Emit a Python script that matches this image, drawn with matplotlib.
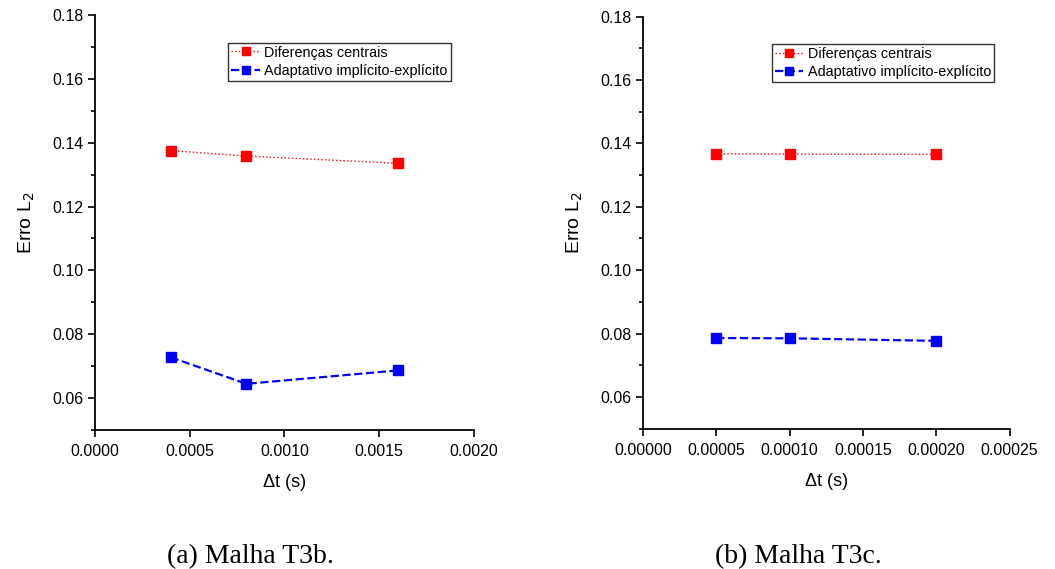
import matplotlib
matplotlib.use("Agg")
import matplotlib.pyplot as plt
from matplotlib.ticker import MultipleLocator, FormatStrFormatter

plt.rcParams['font.family'] = ['Liberation Sans', 'DejaVu Sans']

# Data
dt_a = [0.0004, 0.0008, 0.0016]
dc_a = [0.1375, 0.1358, 0.1335]
ad_a = [0.0728, 0.0645, 0.0687]

dt_b = [0.00005, 0.00010, 0.00020]
dc_b = [0.1367, 0.1366, 0.1365]
ad_b = [0.0786, 0.0785, 0.0777]

labels = ["Diferenças centrais", "Adaptativo implícito-explícito"]
captions = ["(a) Malha T3b.", "(b) Malha T3c."]

fig = plt.figure(figsize=(10.55, 5.69), dpi=100)
ax1 = fig.add_axes([0.090, 0.244, 0.359, 0.730])
ax2 = fig.add_axes([0.6095, 0.2466, 0.3475, 0.7244])

def style(ax, xmax, xstep, fmt, legend_anchor):
    ax.spines['top'].set_visible(False)
    ax.spines['right'].set_visible(False)
    for s in ('left', 'bottom'):
        ax.spines[s].set_linewidth(1.3)
    ax.set_xlim(0, xmax)
    ax.set_ylim(0.05, 0.18)
    ax.xaxis.set_major_locator(MultipleLocator(xstep))
    ax.xaxis.set_major_formatter(FormatStrFormatter(fmt))
    ax.yaxis.set_minor_locator(MultipleLocator(0.01))
    ax.yaxis.set_major_formatter(FormatStrFormatter('%.2f'))
    ax.set_yticks([0.06, 0.08, 0.10, 0.12, 0.14, 0.16, 0.18])
    ax.tick_params(axis='both', which='major', direction='out', length=5, width=1.2, labelsize=11.5)
    ax.tick_params(axis='x', which='major', pad=5)
    ax.tick_params(axis='y', which='minor', direction='out', length=3, width=1.2)
    ax.set_ylabel('Erro L$_2$', fontsize=14, labelpad=11)
    ax.set_xlabel('Δt (s)', fontsize=13, labelpad=11)
    leg = ax.legend(loc='upper left', bbox_to_anchor=legend_anchor, fontsize=10.4,
                    frameon=True, fancybox=False, edgecolor='black', handlelength=2.0,
                    handletextpad=0.3, borderpad=0.2, labelspacing=0.3, borderaxespad=0,
                    markerscale=0.9)
    leg.get_frame().set_linewidth(1.0)

ax1.plot(dt_a, dc_a, color='red', linestyle=':', linewidth=1.0, marker='s', markersize=7, label=labels[0])
ax1.plot(dt_a, ad_a, color='blue', linestyle='--', linewidth=1.6, marker='s', markersize=7, label=labels[1])
style(ax1, 0.0020, 0.0005, '%.4f', (0.352, 0.933))

ax2.plot(dt_b, dc_b, color='red', linestyle=':', linewidth=1.0, marker='s', markersize=7, label=labels[0])
ax2.plot(dt_b, ad_b, color='blue', linestyle='--', linewidth=1.6, marker='s', markersize=7, label=labels[1])
style(ax2, 0.00025, 0.00005, '%.5f', (0.351, 0.933))

fig.text(0.237, 0.044, captions[0], fontsize=20, family='Liberation Serif', ha='center', va='top')
fig.text(0.757, 0.044, captions[1], fontsize=20, family='Liberation Serif', ha='center', va='top')

fig.savefig('out.png', dpi=100)
